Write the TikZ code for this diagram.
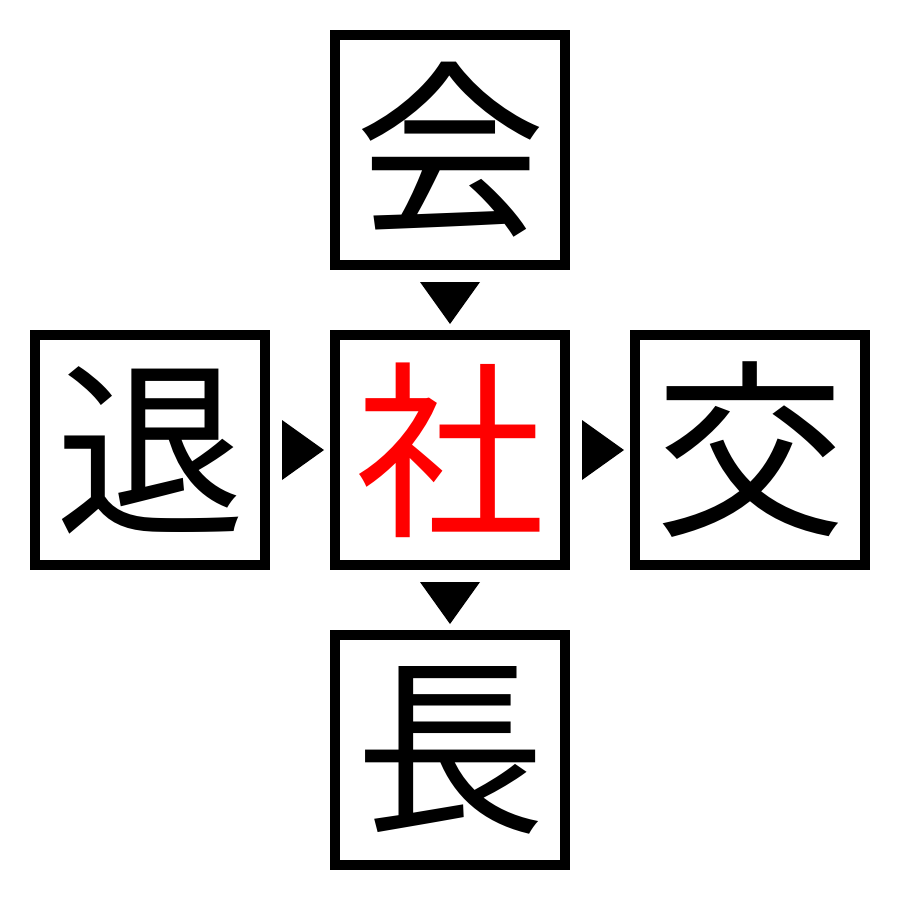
\documentclass[tikz,border=0pt]{standalone}
\usepackage{fontspec}
\newfontfamily\cjk{Noto Sans CJK JP}
\begin{document}
\begin{tikzpicture}[x=1pt,y=-1pt,
  kbox/.style={draw=black,line width=10pt,minimum size=230pt,inner sep=0pt,font=\cjk\fontsize{190}{190}\selectfont,text=black},
  tri/.style={fill=black,draw=none}]
\useasboundingbox (0,0) rectangle (900,900);
\node[kbox] (top) at (450,150) {会};
\node[kbox,text=red] (mid) at (450,450) {社};
\node[kbox] (left) at (150,450) {退};
\node[kbox] (right) at (750,450) {交};
\node[kbox] (bot) at (450,750) {長};
\fill[tri] (420,282) -- (480,282) -- (450,324) -- cycle;
\fill[tri] (420,582) -- (480,582) -- (450,624) -- cycle;
\fill[tri] (282,420) -- (282,480) -- (324,450) -- cycle;
\fill[tri] (582,420) -- (582,480) -- (624,450) -- cycle;
\end{tikzpicture}
\end{document}
